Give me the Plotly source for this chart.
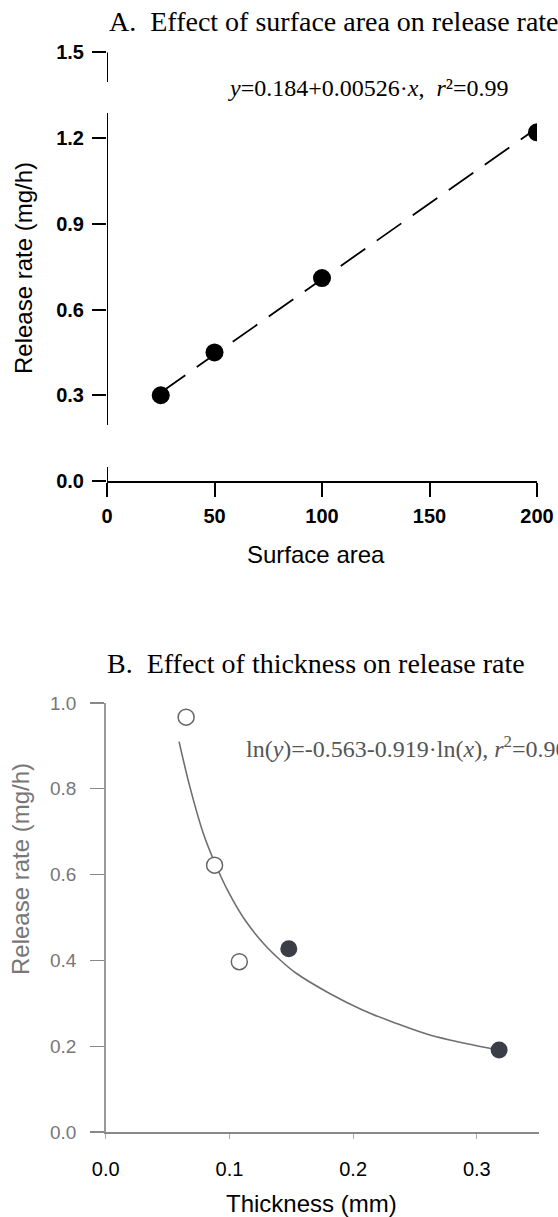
import plotly.graph_objects as go

W, H = 558, 1217
OFF_X, OFF_Y = 0, 0

# ---- Panel A data ----
area = [25, 50, 100, 200]
rate_a = [0.30, 0.45, 0.71, 1.22]
fit_a_x = [25, 200]
fit_a_y = [0.31, 1.235]
ticks_a_x = [0, 50, 100, 150, 200]
ticks_a_y = [0.0, 0.3, 0.6, 0.9, 1.2, 1.5]
axis_a_segments = [(0.0, 0.049), (0.196, 1.288), (1.396, 1.5)]

# ---- Panel B data ----
thick_open = [0.065, 0.088, 0.108]
rate_open = [0.967, 0.622, 0.397]
thick_fill = [0.148, 0.318]
rate_fill = [0.427, 0.191]
curve_b_x = [0.0593, 0.068, 0.079, 0.0884, 0.0995, 0.1126, 0.1274, 0.141, 0.154,
             0.181, 0.208, 0.235, 0.262, 0.290, 0.318]
curve_b_y = [0.910, 0.805, 0.695, 0.626, 0.558, 0.494, 0.440, 0.401, 0.370,
             0.323, 0.284, 0.253, 0.226, 0.207, 0.191]
ticks_b_x = [0.0, 0.1, 0.2, 0.3]
ticks_b_y = [0.0, 0.2, 0.4, 0.6, 0.8, 1.0]


def px(x):
    return (x - OFF_X) / W


def py(y):
    return 1 - (y - OFF_Y) / H


fig = go.Figure()

fig.add_trace(go.Scatter(x=fit_a_x, y=fit_a_y, mode="lines", xaxis="x", yaxis="y",
                         line=dict(color="black", width=1.8, dash="30px,14px"), showlegend=False))
fig.add_trace(go.Scatter(x=area, y=rate_a, mode="markers", xaxis="x", yaxis="y",
                         marker=dict(color="black", size=18), showlegend=False))

fig.add_trace(go.Scatter(x=curve_b_x, y=curve_b_y, mode="lines", xaxis="x2", yaxis="y2",
                         line=dict(color="#6f6f6f", width=1.6, shape="spline", smoothing=1.0),
                         showlegend=False))
fig.add_trace(go.Scatter(x=thick_open, y=rate_open, mode="markers", xaxis="x2", yaxis="y2",
                         marker=dict(color="white", size=16, line=dict(color="#666", width=1.5)),
                         showlegend=False))
fig.add_trace(go.Scatter(x=thick_fill, y=rate_fill, mode="markers", xaxis="x2", yaxis="y2",
                         marker=dict(color="#3b3e46", size=17), showlegend=False))

shapes = []
for lo, hi in axis_a_segments:
    shapes.append(dict(type="line", xref="x", yref="y", x0=0, x1=0, y0=lo, y1=hi,
                       line=dict(color="black", width=2)))

ann = []
ann.append(dict(text="A.  Effect of surface area on release rate", x=px(334), y=py(22),
                xref="paper", yref="paper", showarrow=False, xanchor="center", yanchor="middle",
                font=dict(family="Liberation Serif", size=28, color="black")))
ann.append(dict(text="<i>y</i>=0.184+0.00526·<i>x</i>,  <i>r</i>²=0.99", x=px(368), y=py(88),
                xref="paper", yref="paper", showarrow=False, xanchor="center", yanchor="middle",
                font=dict(family="Liberation Serif", size=24, color="black")))
ann.append(dict(text="Release rate (mg/h)", x=px(23), y=py(268), textangle=-90,
                xref="paper", yref="paper", showarrow=False, xanchor="center", yanchor="middle",
                font=dict(family="Liberation Sans", size=24, color="black")))
ann.append(dict(text="Surface area", x=px(316), y=py(554),
                xref="paper", yref="paper", showarrow=False, xanchor="center", yanchor="middle",
                font=dict(family="Liberation Sans", size=24, color="black")))

ann.append(dict(text="B.  Effect of thickness on release rate", x=px(316), y=py(663),
                xref="paper", yref="paper", showarrow=False, xanchor="center", yanchor="middle",
                font=dict(family="Liberation Serif", size=28, color="black")))
ann.append(dict(text="ln(<i>y</i>)=-0.563-0.919·ln(<i>x</i>), <i>r</i><sup>2</sup>=0.90", x=px(244), y=py(747),
                xref="paper", yref="paper", showarrow=False, xanchor="left", yanchor="middle",
                font=dict(family="Liberation Serif", size=24, color="#555")))
ann.append(dict(text="Release rate (mg/h)", x=px(20), y=py(869), textangle=-90,
                xref="paper", yref="paper", showarrow=False, xanchor="center", yanchor="middle",
                font=dict(family="Liberation Sans", size=24, color="#777")))
ann.append(dict(text="Thickness (mm)", x=px(312), y=py(1203),
                xref="paper", yref="paper", showarrow=False, xanchor="center", yanchor="middle",
                font=dict(family="Liberation Sans", size=24, color="black")))

fig.update_layout(
    width=W, height=H, autosize=False,
    margin=dict(l=0, r=0, t=0, b=0, pad=0, autoexpand=False),
    paper_bgcolor="white", plot_bgcolor="white",
    shapes=shapes, annotations=ann,
    xaxis=dict(domain=[px(107), px(537)], range=[0, 200], tickvals=ticks_a_x,
               ticks="outside", ticklen=14, tickwidth=2, tickcolor="black",
               showline=True, linecolor="black", linewidth=2, showgrid=False, zeroline=False,
               tickfont=dict(family="Liberation Sans", size=20, color="black", weight="bold"),
               ticklabelstandoff=2, automargin=False,
               anchor="y", fixedrange=True),
    yaxis=dict(domain=[py(481), py(52.3)], range=[0, 1.5], tickvals=ticks_a_y,
               ticktext=["0.0", "0.3", "0.6", "0.9", "1.2", "1.5"],
               ticks="outside", ticklen=14, tickwidth=2, tickcolor="black",
               showline=False, showgrid=False, zeroline=False,
               tickfont=dict(family="Liberation Sans", size=20, color="black", weight="bold"),
               ticklabelstandoff=4, automargin=False,
               anchor="x", fixedrange=True),
    xaxis2=dict(domain=[px(105.7), px(538.7)], range=[0, 0.35], tickvals=ticks_b_x,
                ticktext=["0.0", "0.1", "0.2", "0.3"],
                ticks="outside", ticklen=5, tickwidth=1, tickcolor="#aaa",
                showline=True, linecolor="#888", linewidth=1.5, showgrid=False, zeroline=False,
                tickfont=dict(family="Liberation Sans", size=20, color="black"),
                ticklabelstandoff=13, automargin=False,
                anchor="y2", fixedrange=True),
    yaxis2=dict(domain=[py(1132), py(703)], range=[0, 1.0], tickvals=ticks_b_y,
                ticktext=["0.0", "0.2", "0.4", "0.6", "0.8", "1.0"],
                ticks="outside", ticklen=14, tickwidth=1.2, tickcolor="#888",
                showline=True, linecolor="#999", linewidth=1.5, showgrid=False, zeroline=False,
                tickfont=dict(family="Liberation Sans", size=19, color="#777"),
                ticklabelstandoff=10, automargin=False,
                anchor="x2", fixedrange=True),
)

fig.write_html("out.html",
               config={"displayModeBar": False, "staticPlot": True},
               post_script="document.body.style.margin='0';document.body.style.overflow='hidden';")
